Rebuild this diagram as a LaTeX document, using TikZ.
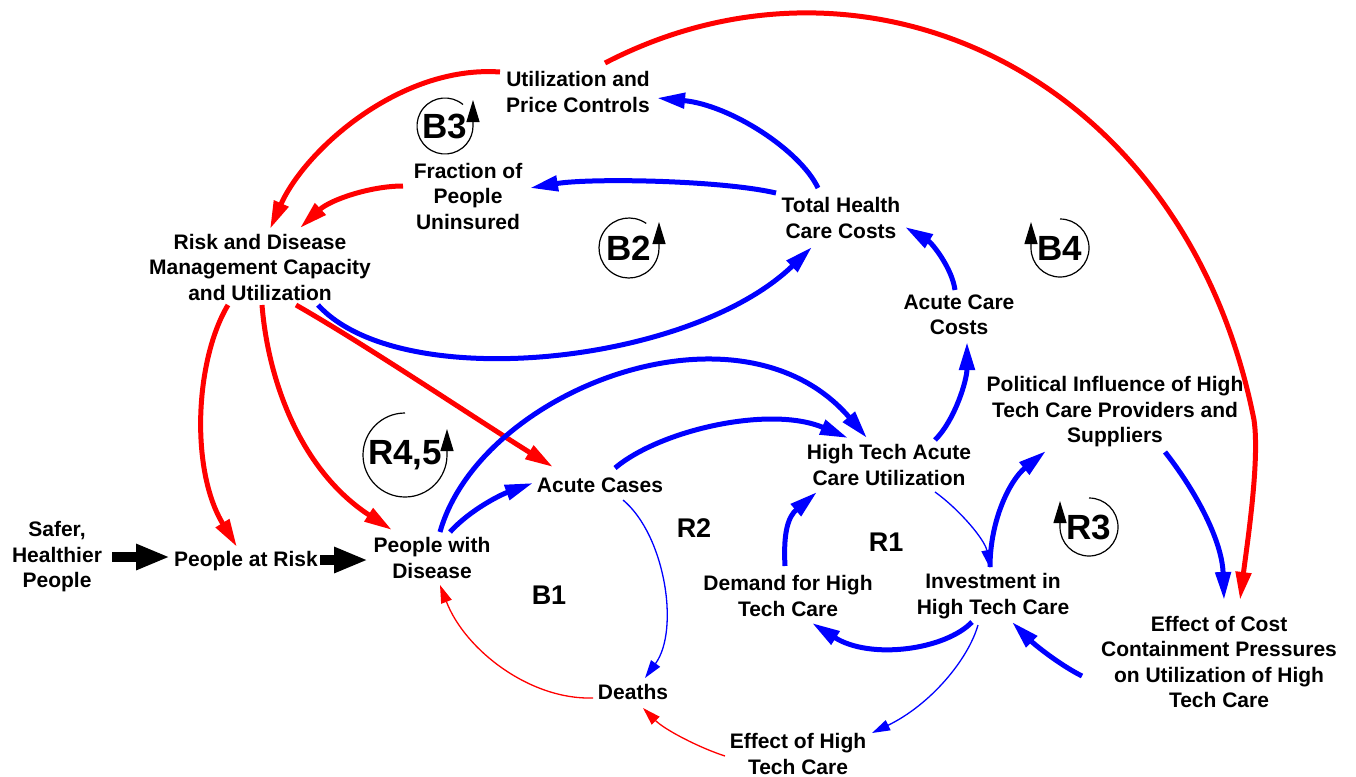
\documentclass[tikz,border=0pt]{standalone}
\usepackage{fontspec}
\setmainfont{Liberation Sans}
\usetikzlibrary{arrows.meta,calc}
\begin{document}
\begin{tikzpicture}[x=1pt,y=-1pt,
  var/.style={font=\fontsize{21}{25.5}\selectfont\bfseries, align=center, inner sep=0pt},
  looplbl/.style={font=\fontsize{27}{30}\selectfont\bfseries, inner sep=0pt},
  markerlbl/.style={font=\fontsize{35}{37}\selectfont\bfseries, inner sep=0pt},
  bluethick/.style={draw=blue, line width=5pt, -{Triangle[length=28pt,width=15pt]}},
  redthick/.style={draw=red, line width=5pt, -{Triangle[length=28pt,width=15pt]}},
  bluethin/.style={draw=blue, line width=1.3pt, -{Triangle[length=18pt,width=11pt]}},
  redthin/.style={draw=red, line width=1.3pt, -{Triangle[length=18pt,width=11pt]}},
  flow/.style={draw=black, line width=10pt, -{Triangle[length=34pt,width=24pt]}},
  ring/.style={draw=black, line width=1.2pt, -{Triangle[length=22pt,width=13pt]}}
]
\useasboundingbox (0,0) rectangle (1356,776);

% variables
\node[var] (upc) at (578,92) {Utilization and\\Price Controls};
\node[var] (fpu) at (468,196) {Fraction of\\People\\Uninsured};
\node[var] (thc) at (841,218) {Total Health\\Care Costs};
\node[var] (rdm) at (260,267) {Risk and Disease\\Management Capacity\\and Utilization};
\node[var] (acc) at (959,315) {Acute Care\\Costs};
\node[var] (pol) at (1115,412) {Political Influence of High\\Tech Care Providers and\\Suppliers};
\node[var] (htu) at (889,465) {High Tech Acute\\Care Utilization};
\node[var] (ac) at (600,485) {Acute Cases};
\node[var] (shp) at (57,557) {Safer,\\Healthier\\People};
\node[var] (par) at (246,561) {People at Risk};
\node[var] (pwd) at (432,558) {People with\\Disease};
\node[var] (dem) at (788,596) {Demand for High\\Tech Care};
\node[var] (inv) at (993,596) {Investment in\\High Tech Care};
\node[var] (ecc) at (1219,662) {Effect of Cost\\Containment Pressures\\on Utilization of High\\Tech Care};
\node[var] (dth) at (633,692) {Deaths};
\node[var] (eht) at (798,754) {Effect of High\\Tech Care};

% loop names
\node[looplbl] (lR2) at (694,528) {R2};
\node[looplbl] (lR1) at (886,542) {R1};
\node[looplbl] (lB1) at (549,595) {B1};

% loop markers
\node[markerlbl] (mB3) at (445,126) {B3};
\draw[ring] (mB3.center) ++(50:28pt) arc[start angle=50,end angle=360,radius=28pt] -- ++(0,-26);
\node[markerlbl] (mB2) at (629,248) {B2};
\draw[ring] (mB2.center) ++(55:30pt) arc[start angle=55,end angle=360,radius=30pt] -- ++(0,-26);
\node[markerlbl] (mB4) at (1060,248) {B4};
\draw[ring] (mB4.center) ++(90:29pt) arc[start angle=90,end angle=-180,radius=29pt] -- ++(0,-26);
\node[markerlbl] (mR3) at (1089,527) {R3};
\draw[ring] (mR3.center) ++(90:29pt) arc[start angle=90,end angle=-180,radius=29pt] -- ++(0,-26);
\node[markerlbl] (mR45) at (405,455) {R4,5};
\draw[ring] (mR45.center) ++(90:42pt) arc[start angle=90,end angle=360,radius=42pt] -- ++(0,-26);

% material flow
\draw[flow] ($(shp.center)+(55,0)$) -- ($(par.center)+(-76,-4)$);
\draw[flow] ($(par.center)+(74,-1)$) -- ($(pwd.center)+(-64,2)$);

% links from utilization and price controls / fraction uninsured
\draw[redthick] ($(upc.center)+(-78,-20)$) .. controls +(-100,-7) and +(35,-79) .. ($(rdm.center)+(10,-38)$);
\draw[redthick] ($(fpu.center)+(-65,-10)$) .. controls +(-33,0) and +(30,-28) .. ($(rdm.center)+(40,-39)$);
\coordinate (bend) at (1254,420);
\draw[redthick] ($(upc.center)+(27,-29)$) .. controls +(262,-136) and +(-68,-345) .. (bend)
  .. controls +(6,40) and +(7,-55) .. ($(ecc.center)+(21,-62)$);

% links from total health care costs
\draw[bluethick] ($(thc.center)+(-23,-30)$) .. controls +(-18,-38) and +(73,7) .. ($(upc.center)+(79,6)$);
\draw[bluethick] ($(thc.center)+(-65,-25)$) .. controls +(-56,-13) and +(60,-10) .. ($(fpu.center)+(62,-8)$);
\draw[bluethick] ($(rdm.center)+(58,38)$) .. controls +(82,90) and +(-122,118) .. ($(thc.center)+(-29,29)$);
\draw[bluethick] ($(acc.center)+(-4,-25)$) .. controls +(-3,-22) and +(27,16) .. ($(thc.center)+(64,9)$);
\draw[bluethick] ($(htu.center)+(46,-25)$) .. controls +(20,-20) and +(0,38) .. ($(acc.center)+(8,27)$);

% links from risk and disease management
\draw[redthick] ($(rdm.center)+(-32,38)$) .. controls +(-33,55) and +(-47,-77) .. ($(par.center)+(-9,-14)$);
\draw[redthick] ($(rdm.center)+(2,38)$) .. controls +(6,75) and +(-92,-60) .. ($(pwd.center)+(-40,-28)$);
\draw[redthick] ($(rdm.center)+(36,38)$) .. controls +(70,40) and +(-80,-50) .. ($(ac.center)+(-47,-18)$);

% disease, acute cases and deaths
\draw[bluethick] ($(pwd.center)+(8,-26)$) .. controls +(40,-142) and +(-127,-148) .. ($(htu.center)+(-22,-27)$);
\draw[bluethick] ($(pwd.center)+(18,-26)$) .. controls +(20,-22) and +(-33,12) .. ($(ac.center)+(-67,-2)$);
\draw[bluethick] ($(ac.center)+(15,-17)$) .. controls +(45,-38) and +(-78,-33) .. ($(htu.center)+(-41,-27)$);
\draw[bluethin] ($(ac.center)+(23,15)$) .. controls +(42,35) and +(35,-48) .. ($(dth.center)+(12,-14)$);
\draw[redthin] ($(dth.center)+(-40,6)$) .. controls +(-63,2) and +(25,65) .. ($(pwd.center)+(8,27)$);

% high tech care loops
\draw[bluethin] ($(htu.center)+(46,27)$) .. controls +(25,18) and +(-5,-28) .. ($(inv.center)+(-3,-28)$);
\draw[bluethick] ($(inv.center)+(-3,-29)$) .. controls +(0,-47) and +(-36,29) .. ($(pol.center)+(-69,39)$);
\draw[bluethick] ($(dem.center)+(-3,-30)$) .. controls +(-2,-36) and +(-28,24) .. ($(htu.center)+(-72,27)$);
\draw[bluethick] ($(inv.center)+(-21,26)$) .. controls +(-27,28) and +(58,37) .. ($(dem.center)+(24,27)$);
\draw[bluethick] ($(pol.center)+(50,40)$) .. controls +(30,38) and +(-2,-60) .. ($(ecc.center)+(5,-62)$);
\draw[bluethick] ($(ecc.center)+(-137,14)$) .. controls +(-22,-11) and +(23,23) .. ($(inv.center)+(19,26)$);
\draw[bluethin] ($(inv.center)+(-15,29)$) .. controls +(-10,35) and +(58,-28) .. ($(eht.center)+(74,-21)$);
\draw[redthin] ($(eht.center)+(-73,2)$) .. controls +(-25,-8) and +(22,22) .. ($(dth.center)+(10,16)$);
\end{tikzpicture}
\end{document}
